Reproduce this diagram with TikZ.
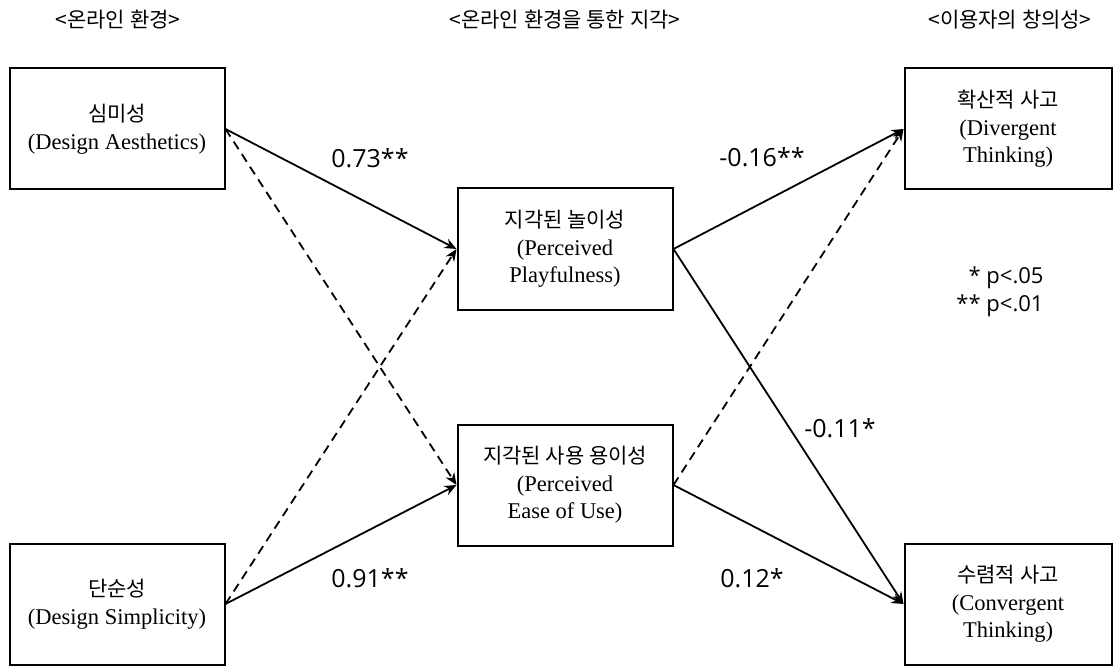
\documentclass[tikz,border=0pt]{standalone}
\usepackage{fontspec}
\usetikzlibrary{arrows.meta}
\setmainfont{Liberation Serif}
\newfontfamily\kr{Noto Sans CJK KR}
\newfontfamily\numfont{Open Sans}
\newcommand\krline[1]{{\kr\fontsize{21}{27}\selectfont #1}}

\begin{document}
\begin{tikzpicture}[x=1pt, y=-1pt, >={Stealth[length=12pt, width=10pt]},
    box/.style={draw, line width=2pt, minimum width=215pt, minimum height=121pt,
      inner sep=0pt, align=center, font=\fontsize{22.5}{27.5}\selectfont},
    effect/.style={->, line width=1.8pt},
    noeffect/.style={effect, dash pattern=on 9pt off 6pt},
    coef/.style={font=\numfont\fontsize{25}{28}\selectfont},
    head/.style={font=\kr\fontsize{21}{24}\selectfont}]
  \useasboundingbox (0,0) rectangle (1117,666);
  % Column headings
  \node[head] (headenv)  at (118,20)  {<온라인 환경>};
  \node[head] (headperc) at (565,20)  {<온라인 환경을 통한 지각>};
  \node[head] (headcrea) at (1010,20) {<이용자의 창의성>};
  % Boxes
  \node[box] (aesth) at (117,129) {\krline{심미성}\\(Design Aesthetics)};
  \node[box] (simpl) at (117,604) {\krline{단순성}\\(Design Simplicity)};
  \node[box] (play)  at (565,249) {\krline{지각된 놀이성}\\(Perceived\\Playfulness)};
  \node[box] (ease)  at (565,485) {\krline{지각된 사용 용이성}\\(Perceived\\Ease of Use)};
  \node[box, minimum width=207pt] (diverg) at (1008,129) {\krline{확산적 사고}\\(Divergent\\Thinking)};
  \node[box, minimum width=207pt] (converg) at (1008,604) {\krline{수렴적 사고}\\(Convergent\\Thinking)};
  % Paths
  \draw[effect]   (aesth.east) -- (play.west);
  \draw[noeffect] (aesth.east) -- (ease.west);
  \draw[effect]   (simpl.east) -- (ease.west);
  \draw[noeffect] (simpl.east) -- (play.west);
  \draw[effect]   (play.east) -- (diverg.west);
  \draw[effect]   (play.east) -- (converg.west);
  \draw[noeffect] (ease.east) -- (diverg.west);
  \draw[effect]   (ease.east) -- (converg.west);
  % Coefficients
  \node[coef] (c1) at (370,158) {0.73**};
  \node[coef] (c2) at (370,578) {0.91**};
  \node[coef] (c3) at (762,157) {-0.16**};
  \node[coef] (c4) at (752,578) {0.12*};
  \node[coef] (c5) at (840,428) {-0.11*};
  \node[coef, font=\numfont\fontsize{22}{28}\selectfont, align=right] (sig) at (1000,292) {* p<.05\\** p<.01};
\end{tikzpicture}
\end{document}
